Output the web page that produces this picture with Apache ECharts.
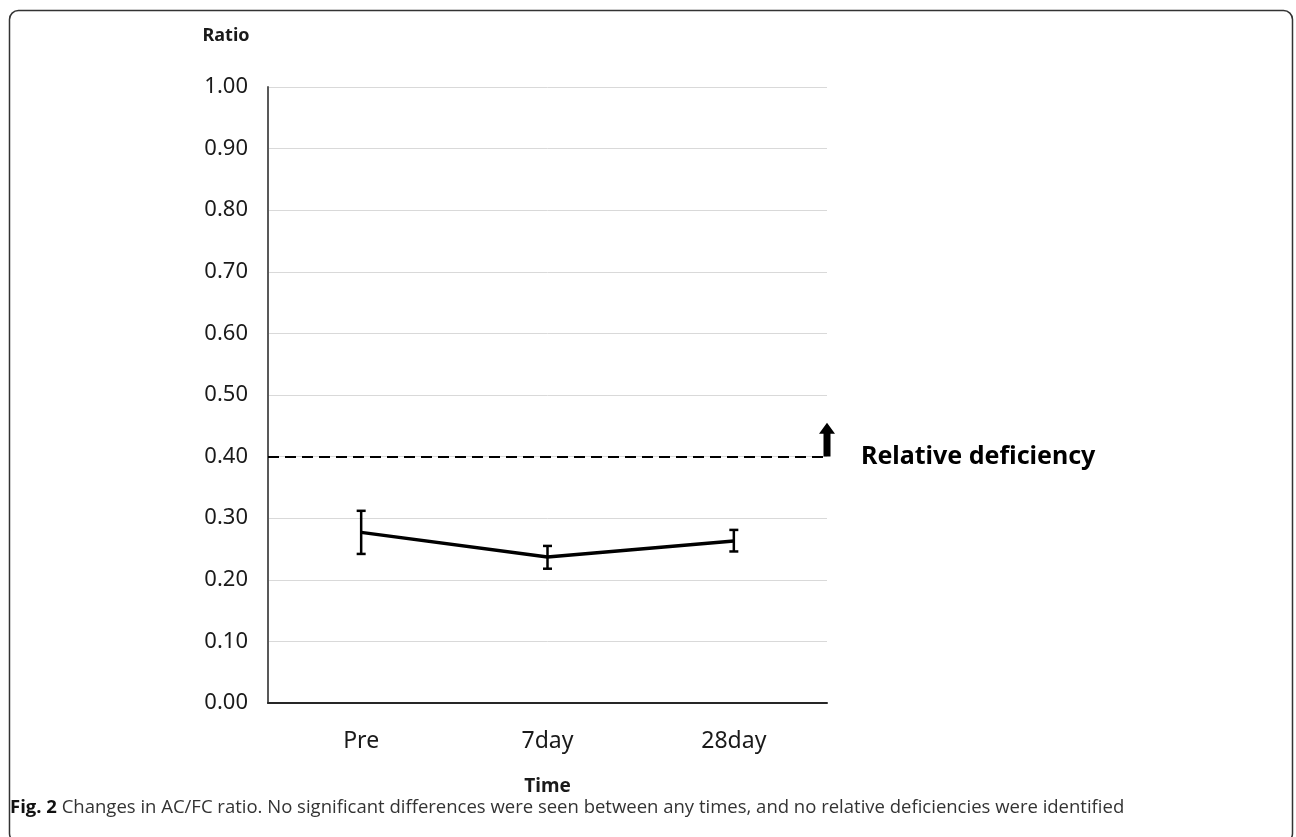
<!DOCTYPE html>
<html>
<head>
<meta charset="utf-8">
<script src="https://cdn.jsdelivr.net/npm/echarts@6/dist/echarts.min.js"></script>
<style>
html, body { margin: 0; padding: 0; background: #fff; }
#chart_container { width: 1296px; height: 837px; }
</style>
</head>
<body>
<div id="chart_container"></div>
<script>
// data
const categories = ["Pre", "7day", "28day"]
const meanRatio = [0.277, 0.237, 0.263]
const lowerRatio = [0.242, 0.218, 0.246]
const upperRatio = [0.312, 0.255, 0.281]
const thresholdValue = 0.40
const thresholdArrowTop = 0.455
const yTicks = { min: 0, max: 1, interval: 0.1 }

const fontFamily = "'Noto Sans', 'DejaVu Sans', sans-serif"

const errorData = categories.map((c, i) => [i, lowerRatio[i], upperRatio[i]])

const chart = echarts.init(document.getElementById("chart_container"))

const option = {
	animation: false,
	backgroundColor: "#fff",
	textStyle: { fontFamily },
	grid: {
		left: 268,
		right: 469,
		top: 87,
		bottom: 134,
	},
	xAxis: {
		type: "category",
		data: categories,
		boundaryGap: true,
		name: "Time",
		nameLocation: "middle",
		nameGap: 74,
		nameTextStyle: { fontSize: 19, fontWeight: "bold", color: "#1a1a1a" },
		axisLine: { lineStyle: { color: "#262626", width: 2 } },
		axisTick: { show: false },
		axisLabel: { fontSize: 23, color: "#1a1a1a", margin: 27 },
	},
	yAxis: {
		type: "value",
		min: yTicks.min,
		max: yTicks.max,
		interval: yTicks.interval,
		name: "Ratio",
		nameLocation: "end",
		nameGap: 42,
		nameTextStyle: {
			fontSize: 18,
			fontWeight: "bold",
			color: "#1a1a1a",
			align: "center",
			padding: [0, 84, 0, 0],
		},
		axisLine: { show: true, lineStyle: { color: "#595959", width: 2 } },
		axisTick: { show: false },
		axisLabel: {
			fontSize: 22,
			color: "#1a1a1a",
			margin: 20,
			formatter: v => v.toFixed(2),
		},
		splitLine: { show: true, lineStyle: { color: "#d9d9d9", width: 1 } },
	},
	series: [
		{
			name: "AC/FC",
			type: "line",
			data: meanRatio,
			symbol: "none",
			lineStyle: { color: "#000", width: 3.5 },
			z: 5,
			markLine: {
				silent: true,
				symbol: ["none", "none"],
				lineStyle: { color: "#000", type: [11, 6], width: 2 },
				label: {
					show: true,
					position: "end",
					distance: 34,
					formatter: "Relative deficiency",
					fontSize: 25,
					fontWeight: "bold",
					color: "#000",
					fontFamily,
				},
				data: [{ yAxis: thresholdValue }],
			},
		},
		{
			name: "error",
			type: "custom",
			data: errorData,
			z: 6,
			renderItem(params, api) {
				const x = api.value(0)
				const lo = api.coord([x, api.value(1)])
				const hi = api.coord([x, api.value(2)])
				const cap = 4.5
				const style = { stroke: "#000", lineWidth: 2.5 }
				return {
					type: "group",
					children: [
						{ type: "line", shape: { x1: lo[0], y1: lo[1], x2: hi[0], y2: hi[1] }, style },
						{ type: "line", shape: { x1: lo[0] - cap, y1: lo[1], x2: lo[0] + cap, y2: lo[1] }, style },
						{ type: "line", shape: { x1: hi[0] - cap, y1: hi[1], x2: hi[0] + cap, y2: hi[1] }, style },
					],
				}
			},
		},
		{
			// up arrow at the right end of the threshold line
			name: "arrow",
			type: "custom",
			data: [[categories.length - 1, thresholdValue, thresholdArrowTop]],
			z: 7,
			silent: true,
			renderItem(params, api) {
				const base = api.coord([api.value(0), api.value(1)])
				const top = api.coord([api.value(0), api.value(2)])
				const x = base[0] + api.size([1, 0])[0] / 2
				const shaft = 3.5
				const head = 8
				const headH = 11
				return {
					type: "polygon",
					shape: {
						points: [
							[x - shaft, base[1]],
							[x - shaft, top[1] + headH],
							[x - head, top[1] + headH],
							[x, top[1]],
							[x + head, top[1] + headH],
							[x + shaft, top[1] + headH],
							[x + shaft, base[1]],
						],
					},
					style: { fill: "#000" },
				}
			},
		},
	],
	graphic: [
		{
			type: "rect",
			shape: { x: 9.5, y: 10.5, width: 1283, height: 832, r: 9 },
			style: { fill: "none", stroke: "#333", lineWidth: 1.5 },
			silent: true,
		},
		{
			type: "text",
			left: 10,
			top: 798,
			style: {
				text: "{b|Fig. 2} Changes in AC/FC ratio. No significant differences were seen between any times, and no relative deficiencies were identified",
				fontSize: 18.5,
				fontFamily: "'Open Sans', sans-serif",
				fill: "#333",
				rich: {
					b: { fontWeight: "bold", fontSize: 18.5, fontFamily: "'Open Sans', sans-serif", fill: "#111" },
				},
			},
		},
	],
}

chart.setOption(option)
</script>
</body>
</html>
